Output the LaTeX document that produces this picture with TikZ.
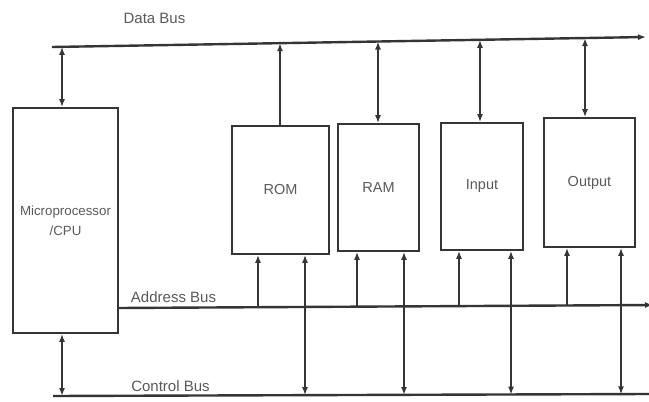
\documentclass[tikz,border=0pt]{standalone}
\usepackage{fontspec}
\setmainfont{Liberation Sans}
\usetikzlibrary{arrows.meta}
\definecolor{ink}{HTML}{353535}
\definecolor{txt}{HTML}{5a5a5a}
\begin{document}
\begin{tikzpicture}[x=1pt,y=-1pt,
  box/.style={draw=ink,line width=1.6pt,fill=white,inner sep=0pt,text=txt,font=\fontsize{14.5}{16}\selectfont},
  bus/.style={draw=ink,line width=2.4pt},
  link/.style={draw=ink,line width=1.6pt},
  tip/.style={-{Latex[length=8pt,width=6pt]}},
  both/.style={{Latex[length=8pt,width=6pt]}-{Latex[length=8pt,width=6pt]}},
  lbl/.style={text=txt,font=\fontsize{15}{17}\selectfont,inner sep=0pt}]
\useasboundingbox (0,0) rectangle (649,402);
\fill[white] (0,0) rectangle (649,402);
% boxes
\node[box,minimum width=105pt,minimum height=225pt,align=center,font=\fontsize{13.3}{20}\selectfont] (cpu) at (65.5,220.5) {Microprocessor\\/CPU};
\node[box,minimum width=97pt,minimum height=128pt] (rom) at (280.5,190) {ROM};
\node[box,minimum width=81pt,minimum height=127pt] (ram) at (378.5,187.5) {RAM};
\node[box,minimum width=82pt,minimum height=127pt] (inp) at (482,186.5) {Input};
\node[box,minimum width=91pt,minimum height=129pt] (out) at (589.5,182.5) {Output};
% labels
\node[lbl] (ldata) at (154.5,18) {Data Bus};
\node[lbl] (laddr) at (173.5,297.5) {Address Bus};
\node[lbl] (lctrl) at (170.5,386.5) {Control Bus};
% data bus
\coordinate (d0) at (52,47);
\coordinate (d1) at (646,37);
\draw[bus,tip] (d0) -- (d1);
\coordinate (dcpu) at (62,46.8);
\coordinate (drom) at (280,43.2);
\coordinate (dram) at (378,41.5);
\coordinate (dinp) at (480,39.8);
\coordinate (dout) at (585,38);
\draw[link,both] (dcpu) -- (dcpu |- cpu.north);
\draw[link,tip] (drom |- rom.north) -- (drom);
\draw[link,both] (dram) -- (dram |- ram.north);
\draw[link,both] (dinp) -- (dinp |- inp.north);
\draw[link,both] (dout) -- (dout |- out.north);
% address bus
\coordinate (a0) at (118,308);
\coordinate (a1) at (653,305);
\draw[bus,tip] (a0) -- (a1);
\coordinate (arom) at (258,306.8);
\coordinate (aram) at (357,306.6);
\coordinate (ainp) at (459,306);
\coordinate (aout) at (567,305.4);
\draw[link,tip] (arom) -- (arom |- rom.south);
\draw[link,tip] (aram) -- (aram |- ram.south);
\draw[link,tip] (ainp) -- (ainp |- inp.south);
\draw[link,tip] (aout) -- (aout |- out.south);
% control bus
\coordinate (c0) at (53,396);
\coordinate (c1) at (649,394);
\draw[bus] (c0) -- (c1);
\coordinate (ccpu) at (62,396);
\coordinate (crom) at (305,395.2);
\coordinate (cram) at (404,395);
\coordinate (cinp) at (511,394.6);
\coordinate (cout) at (621,394.3);
\draw[link,both] (ccpu |- cpu.south) -- (ccpu);
\draw[link,both] (crom |- rom.south) -- (crom);
\draw[link,both] (cram |- ram.south) -- (cram);
\draw[link,both] (cinp |- inp.south) -- (cinp);
\draw[link,both] (cout |- out.south) -- (cout);
\end{tikzpicture}
\end{document}
